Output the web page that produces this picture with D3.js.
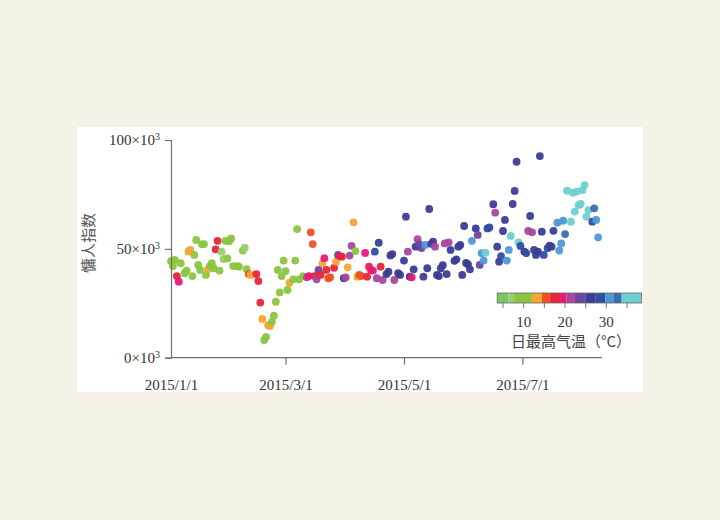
<!DOCTYPE html>
<html>
<head>
<meta charset="utf-8">
<script src="https://cdn.jsdelivr.net/npm/d3@7"></script>
<style>
  body { margin: 0; background: #f5f1e6; }
  svg { display: block; }
</style>
</head>
<body>
<svg id="chart" width="720" height="520"></svg>
<script>
// dates (2015), lazy index (x10^3), daily max temperature (deg C)
var dates = ["1/1","1/2","1/3","1/4","1/5","1/6","1/8","1/9","1/10","1/11","1/12","1/13","1/14","1/15","1/16","1/17","1/18","1/19","1/20","1/21","1/22","1/23","1/24","1/25","1/26","1/27","1/28","1/29","1/30","1/31",
  "2/1","2/2","2/4","2/5","2/7","2/8","2/9","2/10","2/11","2/14","2/15","2/16","2/17","2/18","2/19","2/20","2/21","2/22","2/23","2/24","2/25","2/26","2/27","2/28",
  "3/1","3/2","3/3","3/5","3/6","3/7","3/8","3/10","3/12","3/13","3/14","3/15","3/16","3/17","3/18","3/19","3/20","3/21","3/22","3/23","3/24","3/26","3/27","3/28","3/29","3/30","3/31",
  "4/1","4/2","4/3","4/4","4/5","4/6","4/7","4/8","4/9","4/11","4/12","4/13","4/14","4/15","4/16","4/17","4/18","4/19","4/20","4/22","4/23","4/24","4/25","4/26","4/28","4/29",
  "5/1","5/2","5/3","5/4","5/5","5/6","5/7","5/8","5/9","5/10","5/11","5/12","5/13","5/14","5/15","5/16","5/17","5/18","5/19","5/20","5/21","5/22","5/23","5/24","5/25","5/27","5/28","5/29","5/30","5/31",
  "6/1","6/2","6/3","6/4","6/5","6/7","6/8","6/9","6/10","6/11","6/12","6/13","6/14","6/16","6/17","6/18","6/19","6/20","6/21","6/22","6/23","6/24","6/25","6/26","6/27","6/28","6/29","6/30",
  "7/2","7/3","7/4","7/5","7/6","7/7","7/8","7/9","7/10","7/11","7/12","7/14","7/15","7/16","7/17","7/19","7/20","7/21","7/22","7/23","7/24","7/26","7/27","7/28","7/29","7/30","7/31",
  "8/1","8/2","8/3","8/4","8/6","8/7","8/8","8/9"];

var lazyIndex = [44.4,42.1,44.9,37.5,34.9,43.4,38.8,40.0,48.7,49.5,37.5,47.2,54.1,42.6,40.3,52.1,52.2,38.0,40.6,42.1,43.4,41.1,49.8,53.7,40.0,48.7,45.3,53.7,45.6,53.5,
  54.8,42.1,42.1,41.8,49.2,50.5,40.7,38.4,38.0,38.4,35.2,25.3,17.8,8.1,9.6,14.9,14.6,16.5,19.3,25.7,40.3,30.0,37.5,44.6,
  39.8,31.1,34.4,36.0,44.6,59.1,36.0,37.5,36.9,37.5,57.6,52.2,37.5,36.0,40.3,38.0,43.4,45.7,40.3,36.5,36.9,41.3,44.1,47.2,46.7,46.4,36.5,
  36.9,41.5,46.9,51.4,62.2,49.0,37.2,38.0,37.5,48.1,37.2,41.8,40.3,40.0,48.7,36.5,52.8,41.8,35.7,38.4,39.5,47.0,47.6,35.7,38.8,38.0,
  44.6,64.8,48.7,37.2,36.9,40.6,51.0,54.4,52.0,50.4,37.2,51.8,41.1,68.3,52.3,53.3,51.0,38.0,37.5,41.1,42.5,52.5,38.4,53.0,49.5,44.5,45.2,51.0,51.8,38.0,
  60.5,43.5,42.9,40.6,53.7,59.4,56.4,42.6,48.0,44.6,48.2,59.4,59.8,70.5,66.6,51.0,44.1,46.7,58.2,63.3,44.6,49.5,55.9,70.6,76.6,90.0,53.0,51.3,
  48.7,48.0,58.2,65.1,57.6,49.5,47.2,48.7,92.6,57.9,47.2,50.3,51.5,51.0,58.3,62.0,49.2,52.5,62.9,56.8,76.7,62.5,75.8,67.1,76.3,70.1,70.6,
  77.0,79.3,64.8,67.8,62.5,68.6,63.3,55.3];

var maxTemp = [10,10,10,17,19.5,10,10,10,13,13,10,10,10,10,10,10,10,10,13,10,10,10,17,17,10,7,7,10,10,10,
  10,10,10,10,10,7,10,15,13,17,17,17,13,10,10,13,13,10,10,10,10,10,10,10,
  10,10,13,10,10,10,10,10,21.5,19.5,16,16,17,21.5,23,17,13,19.5,17,15,15,17,13,23,19.5,17,26,
  21.5,14,21.5,21.5,13,10,14,15,15,19.5,17,17,19.5,19.5,28,21.5,26,17,21.5,26,26,26,26,21.5,26,26,
  26,26,21.5,26,20,26,26,21.5,23,23,26,30.5,26,26,26,26,21.5,26,26,26,26,21.5,26,21.5,26,26,26,26,26,26,
  26,26,26,26,30.5,26,23,23,30.5,30.5,36,28,28,26,21.5,26,26,28,26,26,30.5,30.5,36,26,26,26,35,28,
  26,28,21.5,26,21.5,26,26,26,26,26,28,28,26,26,26,30.5,30.5,30.5,30.5,33,36,36,36,36,36,36,36,
  36,36,36,36,28,33,30.5,30.5];

// colour bins of the legend bar
var tempBreaks = [6.3, 7.9, 12, 14.4, 16.4, 18.8, 20.4, 22.4, 24.9, 27.3, 29.7, 31.7, 33.7];
var binColors = ["#7cc964","#96d06c","#8bc53f","#f2a731","#ee5027","#e6253a","#e9197a","#a9479e","#6a46a0","#3c3c95","#2f4fa3","#4f97d9","#3a6bb3","#6fcfd0"];
var yTicks = [0, 50, 100];
var xTickDates = ["2015/1/1","2015/3/1","2015/5/1","2015/7/1"];
var legendTicks = [5,10,15,20,25,30,35];
var legendLabels = [10,20,30];

var svg = d3.select("#chart");
var parse = d3.timeParse("%Y/%m/%d");

var points = dates.map(function(d,i){
    return {date: parse("2015/" + d), v: lazyIndex[i], t: maxTemp[i]}
});

var color = d3.scaleThreshold().domain(tempBreaks).range(binColors);

var x = d3.scaleTime()
    .domain([parse("2015/1/1"), parse("2015/8/11")])
    .range([171, 602]);
var y = d3.scaleLinear().domain([0, 100]).range([357.7, 140]);

// white panel
svg.append("rect")
    .attr("x", 77).attr("y", 127)
    .attr("width", 566).attr("height", 265)
    .attr("fill", "white")

// dots
svg.append("g").selectAll("circle")
    .data(points)
    .enter()
    .append("circle")
    .attr("cx", function(d){return x(d.date)})
    .attr("cy", function(d){return y(d.v)})
    .attr("r", 3.9)
    .attr("fill", function(d){return color(d.t)})
    .attr("fill-opacity", 0.95)

// y axis
var yAxis = svg.append("g")
    .attr("transform", "translate(171,0)")
    .call(d3.axisLeft(y).tickValues(yTicks).tickSize(6).tickPadding(5))
yAxis.selectAll("path, line").attr("stroke", "#707070").attr("stroke-width", 1.2)
yAxis.selectAll(".tick text").each(function(d){
    var t = d3.select(this).text(null)
	.attr("font-family", "'Liberation Serif', serif")
	.attr("font-size", "15px")
	.attr("fill", "#333")
    t.append("tspan").text(d + "×10")
    t.append("tspan").attr("dy", "-0.5em").attr("font-size", "10px").text("3")
})

// x axis
var xAxis = svg.append("g")
    .attr("transform", "translate(0,357.7)")
    .call(d3.axisBottom(x).tickValues(xTickDates.map(parse)).tickSize(7).tickPadding(15)
	  .tickFormat(d3.timeFormat("%Y/%-m/%-d")))
xAxis.select(".domain").attr("d", "M171,0H602")
xAxis.selectAll("path, line").attr("stroke", "#707070").attr("stroke-width", 1.2)
xAxis.select(".tick line").attr("y2", 0)
xAxis.selectAll(".tick text")
    .attr("font-family", "'Liberation Serif', serif")
    .attr("font-size", "15px")
    .attr("fill", "#333")

// y title
svg.append("text")
    .attr("transform", "translate(94,243) rotate(-90)")
    .attr("text-anchor", "middle")
    .attr("font-family", "'Noto Sans CJK SC', sans-serif")
    .attr("font-size", "15px")
    .attr("fill", "#555")
    .text("慵人指数")

// colour legend
var lx = d3.scaleLinear().domain([5, 35]).range([503, 627]);
var edges = [3.6].concat(tempBreaks, [38.5]);
var legend = svg.append("g");
legend.selectAll("rect.bin")
    .data(binColors)
    .enter()
    .append("rect")
    .attr("class", "bin")
    .attr("x", function(d,i){return lx(edges[i])})
    .attr("y", 293)
    .attr("width", function(d,i){return lx(edges[i+1]) - lx(edges[i])})
    .attr("height", 10)
    .attr("fill", function(d){return d})
legend.append("rect")
    .attr("x", lx(edges[0])).attr("y", 293)
    .attr("width", lx(38.5) - lx(3.6)).attr("height", 10)
    .attr("fill", "none").attr("stroke", "#666").attr("stroke-width", 0.8)
legend.selectAll("line")
    .data(legendTicks)
    .enter()
    .append("line")
    .attr("x1", function(d){return lx(d)}).attr("x2", function(d){return lx(d)})
    .attr("y1", 303).attr("y2", 308)
    .attr("stroke", "#777")
legend.selectAll("text.lab")
    .data(legendLabels)
    .enter()
    .append("text")
    .attr("class", "lab")
    .attr("x", function(d){return lx(d)})
    .attr("y", 327)
    .attr("text-anchor", "middle")
    .attr("font-family", "'Liberation Serif', serif")
    .attr("font-size", "15px")
    .attr("fill", "#333")
    .text(function(d){return d})
legend.append("text")
    .attr("x", 511).attr("y", 347)
    .attr("font-family", "'Noto Sans CJK SC', sans-serif")
    .attr("font-size", "15px")
    .attr("fill", "#444")
    .text("日最高气温（°C）")
</script>
</body>
</html>
